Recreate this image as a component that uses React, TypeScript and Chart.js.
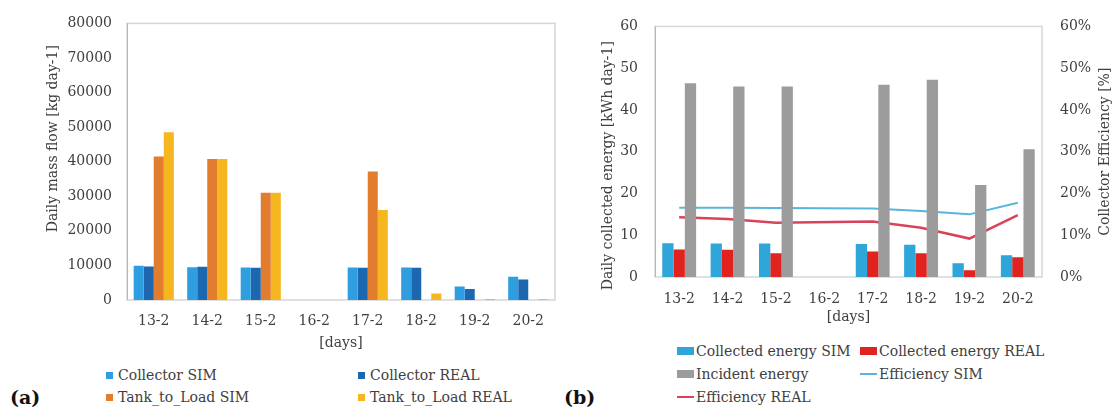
import React, { useEffect, useRef } from "react";
import { Chart, registerables } from "chart.js";

Chart.register(...registerables);

// ---------- data ----------
const days = ["13-2", "14-2", "15-2", "16-2", "17-2", "18-2", "19-2", "20-2"];

// panel (a): daily mass flow [kg day-1]
const collectorSim = [9900, 9500, 9400, 0, 9400, 9400, 3900, 6700];
const collectorReal = [9700, 9600, 9300, 0, 9300, 9300, 3200, 5900];
const tankToLoadSim = [41500, 40800, 31000, 0, 37200, 0, 0, 0];
const tankToLoadReal = [48500, 40800, 31000, 0, 26000, 1900, 300, 200];
const massTicks = [0, 10000, 20000, 30000, 40000, 50000, 60000, 70000, 80000];

// panel (b): daily collected energy [kWh day-1] and efficiency [%]
const collectedSim = [8.1, 8.0, 8.0, 0, 7.9, 7.7, 3.3, 5.2];
const collectedReal = [6.6, 6.5, 5.7, 0, 6.1, 5.7, 1.6, 4.7];
const incidentEnergy = [46.4, 45.6, 45.6, 0, 46.0, 47.2, 22.0, 30.6];
const efficiencySim = [16.6, 16.6, 16.5, null, 16.4, 15.8, 15.0, 17.8];
const efficiencyReal = [14.3, 13.9, 13.0, null, 13.3, 11.8, 9.2, 14.8];
const energyTicks = [0, 10, 20, 30, 40, 50, 60];
const effTicks = [0, 10, 20, 30, 40, 50, 60];

const TITLE_A = "Daily mass flow [kg day-1]";
const TITLE_B_LEFT = "Daily collected energy [kWh day-1]";
const TITLE_B_RIGHT = "Collector Efficiency [%]";

// ---------- styles ----------
const FONT = "'DejaVu Serif', 'Noto Serif', 'Liberation Serif', serif";
const FS = 14;
const TXT = "#404040";
const fontT = { family: FONT, size: FS };

const C_COLL_SIM = "#2f9ee0";
const C_COLL_REAL = "#1d66b0";
const C_TANK_SIM = "#e27d2e";
const C_TANK_REAL = "#f5b61f";
const C_EN_SIM = "#2ea6d9";
const C_EN_REAL = "#e0231f";
const C_INC = "#9c9c9c";
const C_EFF_SIM = "#5ab5dc";
const C_EFF_REAL = "#d8435c";

const framePlugin = {
  id: "frame",
  beforeDatasetsDraw(chart: any) {
    const { ctx, chartArea: a } = chart;
    ctx.save();
    ctx.strokeStyle = "#d6d6d6";
    ctx.lineWidth = 1.5;
    ctx.strokeRect(a.left, a.top, a.right - a.left, a.bottom - a.top);
    ctx.strokeStyle = "#b8b8b8";
    ctx.lineWidth = 1;
    ctx.beginPath();
    ctx.moveTo(a.left + 0.5, a.top);
    ctx.lineTo(a.left + 0.5, a.bottom);
    ctx.stroke();
    ctx.restore();
  },
};

// vertical axis titles, read bottom-to-top, placed beside the plot area
type VTitle = { text: string; x: number; dy: number };
function makeVTitlePlugin(titles: VTitle[]) {
  return {
    id: "vTitles",
    afterDraw(chart: any) {
      const { ctx, chartArea: a } = chart;
      ctx.save();
      ctx.font = `${FS}px ${FONT}`;
      ctx.fillStyle = TXT;
      ctx.textAlign = "center";
      ctx.textBaseline = "middle";
      for (const t of titles) {
        ctx.save();
        ctx.translate(t.x, (a.top + a.bottom) / 2 + t.dy);
        ctx.rotate(-Math.PI / 2);
        ctx.fillText(t.text, 0, 0);
        ctx.restore();
      }
      ctx.restore();
    },
  };
}

function ChartA() {
  const ref = useRef<HTMLCanvasElement>(null);
  useEffect(() => {
    const chart = new Chart(ref.current as HTMLCanvasElement, {
      type: "bar",
      data: {
        labels: days,
        datasets: [
          { label: "Collector SIM", data: collectorSim, backgroundColor: C_COLL_SIM },
          { label: "Collector REAL", data: collectorReal, backgroundColor: C_COLL_REAL },
          { label: "Tank_to_Load SIM", data: tankToLoadSim, backgroundColor: C_TANK_SIM },
          { label: "Tank_to_Load REAL", data: tankToLoadReal, backgroundColor: C_TANK_REAL },
        ].map((d) => ({ ...d, categoryPercentage: 0.75, barPercentage: 1.0 })),
      },
      options: {
        animation: false,
        responsive: false,
        layout: { padding: { left: 39, top: 16, right: 5, bottom: 0 } },
        plugins: { legend: { display: false }, tooltip: { enabled: false } },
        scales: {
          x: {
            grid: { display: false, drawTicks: false },
            border: { display: false },
            ticks: { font: fontT, color: TXT, padding: 13, maxRotation: 0, autoSkip: false },
            title: { display: true, text: "[days]", font: fontT, color: TXT, padding: { top: 0, bottom: 6 } },
            afterFit: (s: any) => { s.height = 58; },
          },
          y: {
            min: massTicks[0],
            max: massTicks[massTicks.length - 1],
            afterBuildTicks: (s: any) => { s.ticks = massTicks.map((v) => ({ value: v })); },
            grid: { display: false, drawTicks: false },
            border: { display: false },
            ticks: { font: fontT, color: TXT, padding: 15, callback: (v: any) => String(v) },
            afterFit: (s: any) => { s.width = 88; },
          },
        },
      },
      plugins: [framePlugin, makeVTitlePlugin([{ text: TITLE_A, x: 53, dy: -23 }])],
    } as any);
    return () => chart.destroy();
  }, []);
  return (
    <canvas ref={ref} width={560} height={358} style={{ position: "absolute", left: 0, top: 0 }} />
  );
}

function ChartB() {
  const ref = useRef<HTMLCanvasElement>(null);
  useEffect(() => {
    const chart = new Chart(ref.current as HTMLCanvasElement, {
      type: "bar",
      data: {
        labels: days,
        datasets: [
          { type: "bar", label: "Collected energy SIM", data: collectedSim, backgroundColor: C_EN_SIM, yAxisID: "y", order: 0, categoryPercentage: 0.7, barPercentage: 1.0 },
          { type: "bar", label: "Collected energy REAL", data: collectedReal, backgroundColor: C_EN_REAL, yAxisID: "y", order: 0, categoryPercentage: 0.7, barPercentage: 1.0 },
          { type: "bar", label: "Incident energy", data: incidentEnergy, backgroundColor: C_INC, yAxisID: "y", order: 0, categoryPercentage: 0.7, barPercentage: 1.0 },
          { type: "line", label: "Efficiency SIM", data: efficiencySim, borderColor: C_EFF_SIM, borderWidth: 2, pointRadius: 0, spanGaps: true, yAxisID: "y2", order: 1 },
          { type: "line", label: "Efficiency REAL", data: efficiencyReal, borderColor: C_EFF_REAL, borderWidth: 2.5, pointRadius: 0, spanGaps: true, yAxisID: "y2", order: 1 },
        ],
      },
      options: {
        animation: false,
        responsive: false,
        layout: { padding: { left: 34, top: 17, right: 0, bottom: 0 } },
        plugins: { legend: { display: false }, tooltip: { enabled: false } },
        scales: {
          x: {
            grid: { display: false, drawTicks: false },
            border: { display: false },
            ticks: { font: fontT, color: TXT, padding: 14, maxRotation: 0, autoSkip: false },
            title: { display: true, text: "[days]", font: fontT, color: TXT, padding: { top: 0, bottom: 6 } },
            afterFit: (s: any) => { s.height = 55; },
          },
          y: {
            position: "left",
            min: energyTicks[0],
            max: energyTicks[energyTicks.length - 1],
            afterBuildTicks: (s: any) => { s.ticks = energyTicks.map((v) => ({ value: v })); },
            grid: { display: false, drawTicks: false },
            border: { display: false },
            ticks: { font: fontT, color: TXT, padding: 17, callback: (v: any) => String(v) },
            afterFit: (s: any) => { s.width = 61; },
          },
          y2: {
            position: "right",
            min: effTicks[0],
            max: effTicks[effTicks.length - 1],
            afterBuildTicks: (s: any) => { s.ticks = effTicks.map((v) => ({ value: v })); },
            grid: { display: false, drawTicks: false },
            border: { display: false },
            ticks: { font: fontT, color: TXT, padding: 18, callback: (v: any) => `${v}%` },
            afterFit: (s: any) => { s.width = 72; },
          },
        },
      },
      plugins: [
        framePlugin,
        makeVTitlePlugin([
          { text: TITLE_B_LEFT, x: 48, dy: 14 },
          { text: TITLE_B_RIGHT, x: 545, dy: 0 },
        ]),
      ],
    } as any);
    return () => chart.destroy();
  }, []);
  return (
    <canvas ref={ref} width={554} height={332} style={{ position: "absolute", left: 560, top: 0 }} />
  );
}

type LegendEntry = { label: string; color: string; kind: "square" | "rect" | "line"; x: number; y: number };

const legendA: LegendEntry[] = [
  { label: "Collector SIM", color: C_COLL_SIM, kind: "square", x: 106, y: 375 },
  { label: "Collector REAL", color: C_COLL_REAL, kind: "square", x: 358, y: 375 },
  { label: "Tank_to_Load SIM", color: C_TANK_SIM, kind: "square", x: 106, y: 397 },
  { label: "Tank_to_Load REAL", color: C_TANK_REAL, kind: "square", x: 358, y: 397 },
];
const legendB: LegendEntry[] = [
  { label: "Collected energy SIM", color: C_EN_SIM, kind: "rect", x: 677, y: 351 },
  { label: "Collected energy REAL", color: C_EN_REAL, kind: "rect", x: 860, y: 351 },
  { label: "Incident energy", color: C_INC, kind: "rect", x: 677, y: 374 },
  { label: "Efficiency SIM", color: C_EFF_SIM, kind: "line", x: 860, y: 374 },
  { label: "Efficiency REAL", color: C_EFF_REAL, kind: "line", x: 677, y: 397 },
];

function Legend({ items }: { items: LegendEntry[] }) {
  return (
    <>
      {items.map((it) => {
        const mw = it.kind === "square" ? 7 : 17;
        const mh = it.kind === "square" ? 7 : it.kind === "rect" ? 8 : 2;
        return (
          <div
            key={it.label}
            style={{
              position: "absolute",
              left: it.x,
              top: it.y - 10,
              height: 20,
              display: "flex",
              alignItems: "center",
              whiteSpace: "nowrap",
              fontFamily: FONT,
              fontSize: FS,
              color: TXT,
            }}
          >
            <span style={{ display: "inline-block", width: mw, height: mh, background: it.color, marginRight: it.kind === "square" ? 5 : 2 }} />
            <span>{it.label}</span>
          </div>
        );
      })}
    </>
  );
}

export default function App() {
  return (
    <div style={{ position: "absolute", left: 0, top: 0, width: 1114, height: 414, background: "#fff", overflow: "hidden" }}>
      <ChartA />
      <ChartB />
      <Legend items={legendA} />
      <Legend items={legendB} />
      <div style={{ position: "absolute", left: 10, top: 386, fontFamily: FONT, fontWeight: "bold", fontSize: 19, color: "#111" }}>(a)</div>
      <div style={{ position: "absolute", left: 564, top: 386, fontFamily: FONT, fontWeight: "bold", fontSize: 19, color: "#111" }}>(b)</div>
    </div>
  );
}
